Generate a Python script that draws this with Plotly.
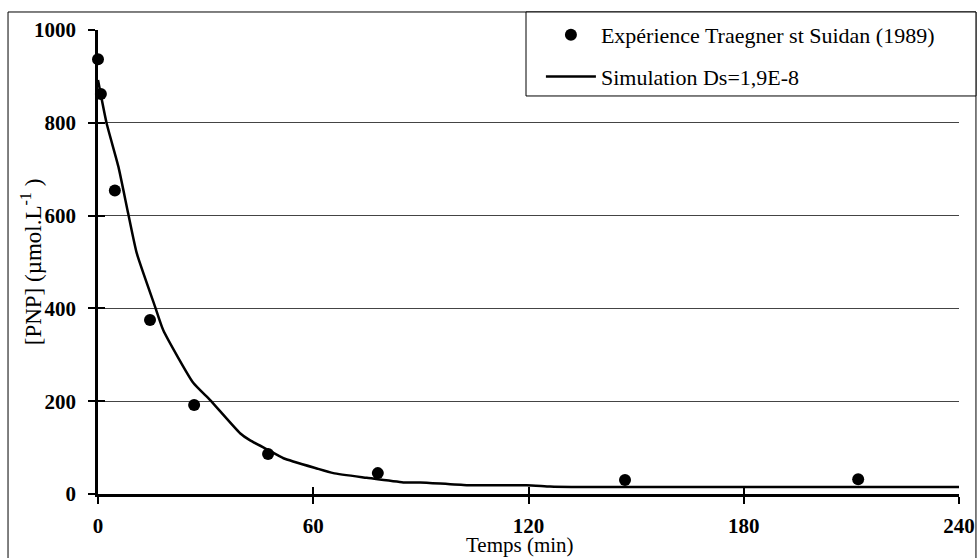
import plotly.graph_objects as go

# Experimental data
exp_t = [0, 0.8, 4.7, 14.5, 26.8, 47.4, 78, 146.9, 211.9]
exp_c = [937, 862, 654, 375, 192, 86, 45, 30, 32]

# Simulation curve
sim_t = [0, 2.4, 5.7, 8.4, 10.8, 15.9, 18.2, 26.6, 31.2, 39.6, 42.3, 47.4, 51.7,
         61, 65.6, 74.9, 85.1, 89.8, 102.8, 119.5, 126, 132, 180, 240]
sim_c = [892, 799, 705, 605, 519, 404, 353, 239, 203, 131, 116, 95, 77,
         55, 45, 35, 25, 25, 19, 19, 16, 15, 15, 15]

x_ticks = [0, 60, 120, 180, 240]
y_ticks = [0, 200, 400, 600, 800, 1000]

serif = "Liberation Serif, Times New Roman, serif"

fig = go.Figure()
fig.add_trace(go.Scatter(
    x=exp_t, y=exp_c, mode="markers", name="Expérience Traegner st Suidan (1989)",
    marker=dict(color="black", size=12), cliponaxis=False, legendgroup="a"))
fig.add_trace(go.Scatter(
    x=sim_t, y=sim_c, mode="lines", name="Simulation Ds=1,9E-8",
    line=dict(color="black", width=2.5, shape="spline", smoothing=0.5),
    legendgroup="b"))
# helper trace for inner tick marks
fig.add_trace(go.Scatter(x=[None], y=[None], xaxis="x2", yaxis="y2",
                         showlegend=False, hoverinfo="skip"))

fig.update_layout(
    width=977, height=558,
    margin=dict(l=98, r=18, t=30, b=64, autoexpand=False),
    paper_bgcolor="white", plot_bgcolor="white",
    font=dict(family=serif, color="black"),
    showlegend=True,
    xaxis=dict(range=[0, 240], tickvals=x_ticks, ticks="outside", ticklen=7,
               tickwidth=2, tickcolor="black", showline=True, linewidth=2.5,
               linecolor="black", showgrid=False, zeroline=False, automargin=False,
               tickfont=dict(family=serif, size=21, weight="bold"),
               ticklabelstandoff=4),
    yaxis=dict(range=[0, 1000], tickvals=y_ticks, ticks="outside", ticklen=7,
               tickwidth=2, tickcolor="black", showline=True, linewidth=2.5,
               linecolor="black", showgrid=True, gridcolor="#444", gridwidth=1,
               zeroline=False, automargin=False,
               tickfont=dict(family=serif, size=21, weight="bold"),
               ticklabelstandoff=8),
    xaxis2=dict(range=[0, 240], overlaying="x", tickvals=x_ticks, ticks="inside",
                ticklen=7, tickwidth=2, tickcolor="black", showticklabels=False,
                showgrid=False, zeroline=False, showline=False, anchor="y2",
                automargin=False),
    yaxis2=dict(range=[0, 1000], overlaying="y", tickvals=y_ticks, ticks="inside",
                ticklen=7, tickwidth=2, tickcolor="black", showticklabels=False,
                showgrid=False, zeroline=False, showline=False, anchor="x2",
                automargin=False),
    legend=dict(x=0.497, y=1.0345, xanchor="left", yanchor="top",
                bgcolor="rgba(0,0,0,0)", borderwidth=0,
                font=dict(family=serif, size=22), itemwidth=50,
                indentation=15, tracegroupgap=10),
    annotations=[
        dict(text="Temps (min)", xref="paper", yref="paper",
             x=0.49, y=-0.11, xanchor="center", yanchor="middle",
             showarrow=False, font=dict(family=serif, size=21)),
        dict(text="[PNP] (µmol.L<sup>-1</sup> )", xref="paper", yref="paper",
             x=-0.0775, y=0.5, xanchor="center", yanchor="middle", textangle=-90,
             showarrow=False, font=dict(family=serif, size=23)),
    ],
    shapes=[
        dict(type="rect", xref="paper", yref="paper",
             x0=-0.1045, x1=1.0197, y0=-0.2, y1=1.0388,
             line=dict(color="black", width=1), layer="below"),
        dict(type="rect", xref="paper", yref="paper",
             x0=0.4971, x1=1.0197, y0=0.8578, y1=1.0388,
             fillcolor="white", line=dict(color="black", width=1), layer="above"),
    ],
)

fig.write_html("out.html", post_script="document.body.style.margin='0';",
               config={"displayModeBar": False})
